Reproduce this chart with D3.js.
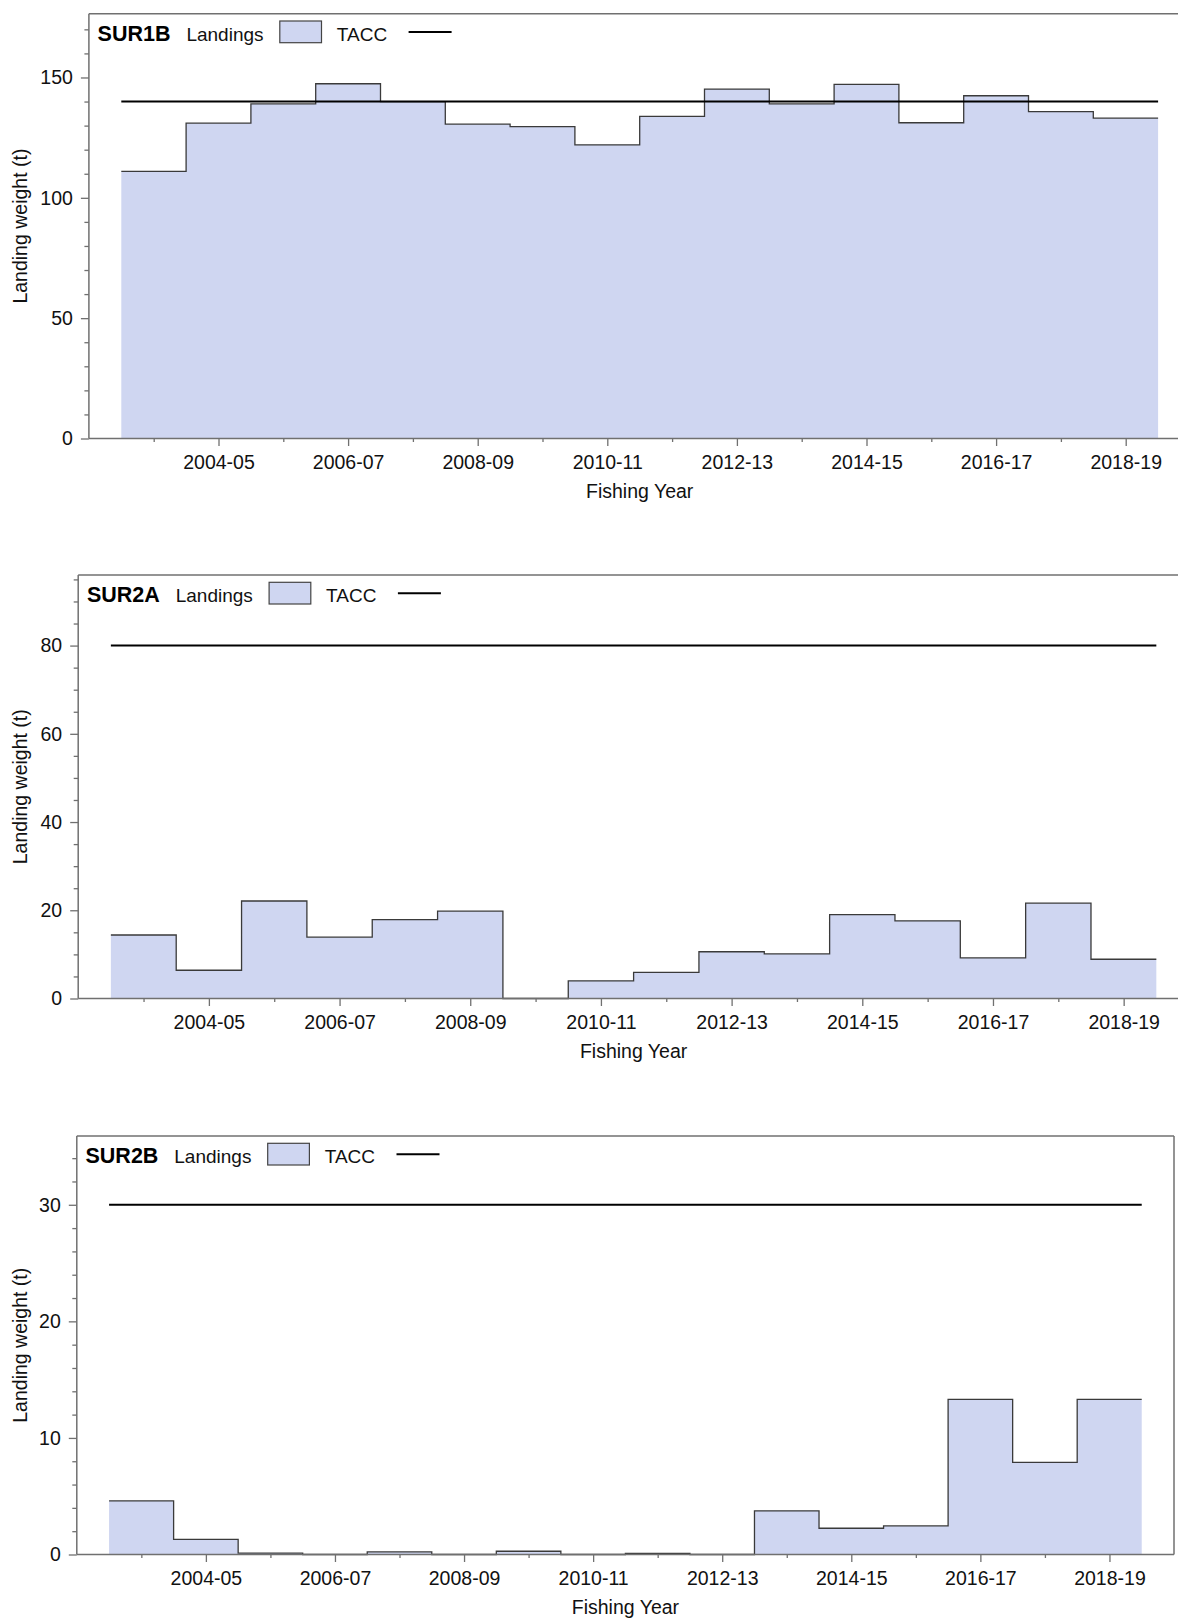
<!DOCTYPE html>
<html>
<head>
<meta charset="utf-8">
<script src="https://cdn.jsdelivr.net/npm/d3@7"></script>
<style>
  html, body { margin: 0; padding: 0; background: #fff; }
  svg { display: block; font-family: "Liberation Sans", Arial, sans-serif; }
</style>
</head>
<body>
<svg id="chart" width="1178" height="1618"></svg>
<script>
// ---------------- DATA ----------------
const categories = ["2003-04","2004-05","2005-06","2006-07","2007-08","2008-09","2009-10","2010-11",
                    "2011-12","2012-13","2013-14","2014-15","2015-16","2016-17","2017-18","2018-19"];
const labelledYears = ["2004-05","2006-07","2008-09","2010-11","2012-13","2014-15","2016-17","2018-19"];

const stockNames = ["SUR1B", "SUR2A", "SUR2B"];

const landingsSUR1B = [111, 131, 139, 147.4, 140, 130.6, 129.6, 122, 133.8, 145.2, 139, 147.1, 131.2, 142.4, 135.8, 133.1];
const landingsSUR2A = [14.4, 6.4, 22.1, 13.9, 17.9, 19.8, 0, 4.0, 5.9, 10.6, 10.1, 19.0, 17.6, 9.2, 21.6, 8.9];
const landingsSUR2B = [4.6, 1.3, 0.12, 0, 0.22, 0, 0.28, 0, 0.09, 0, 3.75, 2.25, 2.45, 13.3, 7.9, 13.3];

const taccValues = [140, 80, 30];

const yMajorSUR1B = [0, 50, 100, 150];
const yMajorSUR2A = [0, 20, 40, 60, 80];
const yMajorSUR2B = [0, 10, 20, 30];
const yMinorStep = [10, 5, 2];
const yAxisMax = [176.5, 96, 35.9];

const xLabel = "Fishing Year";
const yLabel = "Landing weight (t)";

// ---------------- LAYOUT ----------------
const panels = [
  { left: 88.9, top: 13.7,  bottom: 438.5,  right: 1190.5 },
  { left: 78.2, top: 575,   bottom: 998.5,  right: 1189 },
  { left: 76.8, top: 1136,  bottom: 1554.5, right: 1174 }
];
const landingsAll = [landingsSUR1B, landingsSUR2A, landingsSUR2B];
const yMajors = [yMajorSUR1B, yMajorSUR2A, yMajorSUR2B];

const FILL = "#cfd6f1";
const STEP_STROKE = "#3a3a3a";
const FRAME = "#707070";

const svg = d3.select("#chart");

function startYear(cat) { return +cat.slice(0, 4); }

panels.forEach((p, pi) => {
  const values = landingsAll[pi];
  const g = svg.append("g");

  const x = d3.scaleLinear().domain([2002, 2019]).range([p.left, p.right]);
  const y = d3.scaleLinear().domain([0, yAxisMax[pi]]).range([p.bottom, p.top]);

  // step points
  const pts = [];
  categories.forEach((c, i) => {
    const s = startYear(c);
    pts.push([s - 0.5, values[i]]);
    pts.push([s + 0.5, values[i]]);
  });

  const area = d3.area().x(d => x(d[0])).y0(y(0)).y1(d => y(d[1]));
  g.append("path").datum(pts).attr("d", area).attr("fill", FILL).attr("stroke", "none");

  const line = d3.line().x(d => x(d[0])).y(d => y(d[1]));
  g.append("path").datum(pts).attr("d", line)
    .attr("fill", "none").attr("stroke", STEP_STROKE).attr("stroke-width", 1.3);

  // TACC line
  const first = startYear(categories[0]) - 0.5;
  const last = startYear(categories[categories.length - 1]) + 0.5;
  g.append("line")
    .attr("x1", x(first)).attr("x2", x(last))
    .attr("y1", y(taccValues[pi])).attr("y2", y(taccValues[pi]))
    .attr("stroke", "#000").attr("stroke-width", 2);

  // frame: top & right
  g.append("line").attr("x1", p.left).attr("x2", p.right).attr("y1", p.top).attr("y2", p.top)
    .attr("stroke", FRAME).attr("stroke-width", 1.5);
  g.append("line").attr("x1", p.right).attr("x2", p.right).attr("y1", p.top).attr("y2", p.bottom)
    .attr("stroke", FRAME).attr("stroke-width", 1.5);

  // Y axis
  const yMinor = d3.range(0, yAxisMax[pi], yMinorStep[pi]).filter(v => !yMajors[pi].includes(v));
  const yAxisMinor = d3.axisLeft(y).tickValues(yMinor).tickSize(4.5).tickFormat("");
  const yAxisMajor = d3.axisLeft(y).tickValues(yMajors[pi]).tickSize(8).tickPadding(8).tickFormat(d3.format("d"));
  const gyMinor = g.append("g").attr("transform", `translate(${p.left},0)`).call(yAxisMinor);
  gyMinor.select(".domain").remove();
  const gy = g.append("g").attr("transform", `translate(${p.left},0)`).call(yAxisMajor);
  gy.select(".domain").attr("d", `M0,${p.top}V${p.bottom}`);
  [gy, gyMinor].forEach(a => {
    a.selectAll("line").attr("stroke", FRAME).attr("stroke-width", 1.3);
    a.select(".domain").attr("stroke", FRAME).attr("stroke-width", 1.5);
  });
  gy.selectAll("text").attr("font-size", 19.5).attr("fill", "#111")
    .attr("font-family", "Liberation Sans, Arial, sans-serif");

  // X axis
  const minorCats = categories.filter(c => !labelledYears.includes(c));
  const xAxisMinor = d3.axisBottom(x).tickValues(minorCats.map(startYear)).tickSize(3.5).tickFormat("");
  const xAxisMajor = d3.axisBottom(x).tickValues(labelledYears.map(startYear)).tickSize(7.5).tickPadding(9)
    .tickFormat(v => categories.find(c => startYear(c) === v));
  const gxMinor = g.append("g").attr("transform", `translate(0,${p.bottom})`).call(xAxisMinor);
  gxMinor.select(".domain").remove();
  const gx = g.append("g").attr("transform", `translate(0,${p.bottom})`).call(xAxisMajor);
  [gx, gxMinor].forEach(a => {
    a.selectAll("line").attr("stroke", FRAME).attr("stroke-width", 1.3);
    a.select(".domain").attr("stroke", FRAME).attr("stroke-width", 1.5);
  });
  gx.select(".domain").attr("d", `M${p.left},0H${p.right}`);
  gx.selectAll("text").attr("font-size", 19.5).attr("fill", "#111")
    .attr("font-family", "Liberation Sans, Arial, sans-serif");

  // axis titles
  g.append("text")
    .attr("x", (p.left + p.right) / 2).attr("y", p.bottom + 59.5)
    .attr("text-anchor", "middle").attr("font-size", 19.5).attr("fill", "#111")
    .text(xLabel);
  g.append("text")
    .attr("transform", `translate(27,${(p.top + p.bottom) / 2}) rotate(-90)`)
    .attr("text-anchor", "middle").attr("font-size", 19.5).attr("fill", "#111")
    .text(yLabel);

  // legend
  const lx = p.left + 8.7, ly = p.top + 27.3;
  g.append("text").attr("x", lx).attr("y", ly).attr("font-size", 21.5).attr("font-weight", "bold")
    .attr("fill", "#000").text(stockNames[pi]);
  g.append("text").attr("x", lx + 88.8).attr("y", ly).attr("font-size", 19).attr("fill", "#111").text("Landings");
  g.append("rect").attr("x", lx + 182.2).attr("y", p.top + 7.3).attr("width", 41.7).attr("height", 21.7)
    .attr("fill", FILL).attr("stroke", "#444").attr("stroke-width", 1.2);
  g.append("text").attr("x", lx + 239.2).attr("y", ly).attr("font-size", 19).attr("fill", "#111").text("TACC");
  g.append("line").attr("x1", lx + 311).attr("x2", lx + 354)
    .attr("y1", p.top + 18.3).attr("y2", p.top + 18.3)
    .attr("stroke", "#000").attr("stroke-width", 2);
});
</script>
</body>
</html>
